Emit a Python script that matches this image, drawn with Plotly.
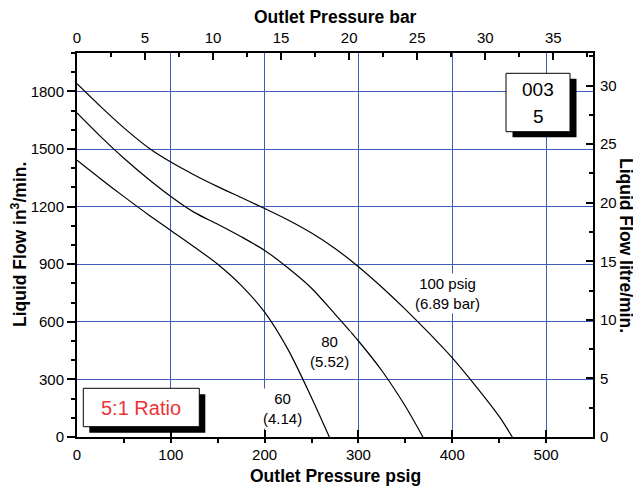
import plotly.graph_objects as go

# ---------------- data ----------------
psig_100 = [0, 25, 50, 78, 100, 125, 150, 175, 200, 225, 250, 275, 300, 325, 350, 375, 400, 425, 450, 464]
flow_100 = [1840, 1722, 1610, 1500, 1432, 1365, 1304, 1247, 1190, 1130, 1062, 982, 887, 780, 665, 542, 412, 265, 107, 0]

psig_80 = [0, 25, 50, 75, 100, 125, 150, 175, 200, 225, 250, 275, 300, 325, 350, 368.7]
flow_80 = [1688, 1566, 1452, 1348, 1253, 1170, 1108, 1043, 972, 880, 775, 640, 500, 345, 160, 0]

psig_60 = [0, 25, 50, 75, 100, 125, 150, 175, 200, 225, 250, 269]
flow_60 = [1441, 1345, 1252, 1162, 1076, 990, 900, 790, 650, 455, 205, 0]

curve_labels = ["100 psig<br>(6.89 bar)", "80<br>(5.52)", "60<br>(4.14)"]
label_x = [395, 269.5, 219]
label_y = [747, 443, 146]

PSI_PER_BAR = 14.5038
IN3_PER_LITRE = 61.0237
X_MAX = 550
Y_MAX = 2000

# ---------------- layout geometry ----------------
OFF = 8  # page body margin
W, H = 633, 484
L, R, T, B = 69, 48, 45, 55
PW, PH = W - L - R, H - T - B

def px(x):
    return (x - OFF - L) / PW

def py(y):
    return (H - B - (y - OFF)) / PH

FONT = "Liberation Sans, Arial, sans-serif"
GRID = "#3f5cb8"

fig = go.Figure()
for xs, ys in [(psig_100, flow_100), (psig_80, flow_80), (psig_60, flow_60)]:
    fig.add_trace(go.Scatter(x=xs, y=ys, mode="lines",
                             line=dict(color="black", width=1.2, shape="spline", smoothing=0.8),
                             showlegend=False, hoverinfo="skip"))
# dummy trace for secondary axes
fig.add_trace(go.Scatter(x=[None], y=[None], xaxis="x2", yaxis="y2", showlegend=False, hoverinfo="skip"))

tickfont = dict(family=FONT, size=15, color="black")

fig.update_layout(
    width=W, height=H,
    margin=dict(l=L, r=R, t=T, b=B),
    paper_bgcolor="white", plot_bgcolor="white",
    font=dict(family=FONT, color="black"),
    xaxis=dict(range=[0, X_MAX], dtick=100, tick0=0, showgrid=True, gridcolor=GRID, gridwidth=1,
               zeroline=False, showline=True, linecolor="black", linewidth=2,
               ticks="inside", ticklen=7, tickwidth=1.5, tickcolor="black",
               minor=dict(dtick=50, ticks="outside", ticklen=4, tickwidth=1.5, tickcolor="black", showgrid=False),
               tickfont=tickfont, ticklabelstandoff=3),
    xaxis2=dict(range=[0, X_MAX / PSI_PER_BAR], overlaying="x", side="top", anchor="y",
                dtick=5, tick0=0, showgrid=False, zeroline=False, showline=True, linecolor="black", linewidth=2,
                ticks="inside", ticklen=7, tickwidth=1.5, tickcolor="black",
                minor=dict(dtick=2.5, ticks="inside", ticklen=4, tickwidth=1.5, tickcolor="black", showgrid=False),
                tickfont=tickfont, ticklabelstandoff=2),
    yaxis=dict(range=[0, Y_MAX], dtick=300, tick0=0, showgrid=True, gridcolor=GRID, gridwidth=1,
               zeroline=False, showline=True, linecolor="black", linewidth=2,
               ticks="outside", ticklen=8, tickwidth=1.5, tickcolor="black",
               minor=dict(dtick=100, ticks="outside", ticklen=4, tickwidth=1.5, tickcolor="black", showgrid=False),
               tickfont=tickfont),
    yaxis2=dict(range=[0, Y_MAX / IN3_PER_LITRE], overlaying="y", side="right", anchor="x",
                dtick=5, tick0=0, showgrid=False, zeroline=False, showline=True, linecolor="black", linewidth=2,
                ticks="inside", ticklen=7, tickwidth=1.5, tickcolor="black",
                minor=dict(dtick=2.5, ticks="inside", ticklen=4, tickwidth=1.5, tickcolor="black", showgrid=False),
                tickfont=tickfont, ticklabelstandoff=2),
)

CENTER = dict(xanchor="center", yanchor="middle", showarrow=False)

# curve labels
for t, x, y in zip(curve_labels, label_x, label_y):
    fig.add_annotation(x=x, y=y, xref="x", yref="y", text=t,
                       font=dict(family=FONT, size=15, color="black"),
                       bgcolor="white", borderpad=1, **CENTER)

# boxes with drop shadows
def box(x0, y0, x1, y1, dx, dy):
    fig.add_shape(type="rect", xref="paper", yref="paper",
                  x0=px(x0 + dx), x1=px(x1 + dx), y0=py(y1 + dy), y1=py(y0 + dy),
                  fillcolor="black", line=dict(width=0), layer="above")
    fig.add_shape(type="rect", xref="paper", yref="paper",
                  x0=px(x0), x1=px(x1), y0=py(y1), y1=py(y0),
                  fillcolor="white", line=dict(color="black", width=1), layer="above")

box(83.3, 388.3, 199.3, 426.7, 6, 6)
box(506, 73.3, 570, 131.7, 6.5, 5.5)

fig.add_annotation(x=px(141.3), y=py(407.5), xref="paper", yref="paper", text="5:1 Ratio",
                   font=dict(family=FONT, size=20, color="#ee3338"), **CENTER)
fig.add_annotation(x=px(538), y=py(89), xref="paper", yref="paper", text="003",
                   font=dict(family=FONT, size=19, color="black"), **CENTER)
fig.add_annotation(x=px(538), y=py(117), xref="paper", yref="paper", text="5",
                   font=dict(family=FONT, size=19, color="black"), **CENTER)

# axis titles
tf = dict(family=FONT, size=17.5, color="black")
fig.add_annotation(x=px(335), y=py(17), xref="paper", yref="paper", text="<b>Outlet Pressure bar</b>",
                   font=tf, **CENTER)
fig.add_annotation(x=px(335), y=py(476), xref="paper", yref="paper", text="<b>Outlet Pressure psig</b>",
                   font=tf, **CENTER)
fig.add_annotation(x=px(19), y=py(245), xref="paper", yref="paper",
                   text="<b>Liquid Flow in<sup>3</sup>/min.</b>", textangle=-90,
                   font=tf, **CENTER)
fig.add_annotation(x=px(626), y=py(245), xref="paper", yref="paper",
                   text="<b>Liquid Flow litre/min.</b>", textangle=90,
                   font=tf, **CENTER)

fig.write_html("out.html")
